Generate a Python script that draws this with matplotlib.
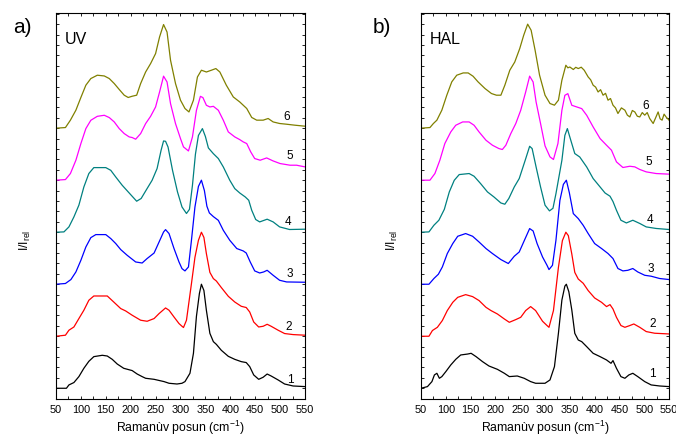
import numpy as np
import matplotlib
matplotlib.use("Agg")
import matplotlib.pyplot as plt
from matplotlib.ticker import MultipleLocator

plt.rcParams['font.family'] = ['Liberation Sans', 'DejaVu Sans']
plt.rcParams['mathtext.fontset'] = 'custom'
plt.rcParams['mathtext.rm'] = 'Liberation Sans'

# Raman spectra (shift in cm-1, normalised intensity), read as (shift, intensity)
uv_1 = [(50, 0), (71, 0), (76, 3.2), (86, 5.5), (96, 11.2), (106, 19.2), (116, 25.9), (126, 30.4),
        (143, 31.7), (153, 31), (163, 27.8), (173, 23.3), (186, 19.2), (203, 17), (213, 13.7),
        (223, 11.2), (230, 9.6), (247, 8.6), (267, 6.4), (277, 4.8), (293, 4.1), (303, 4.8),
        (309, 6.4), (319, 14.4), (326, 33.6), (332, 69.1), (338, 91.2), (342, 100), (347, 94),
        (352, 74.9), (359, 52.8), (366, 44.8), (372, 42.2), (382, 36.5), (396, 30.7), (409, 27.8),
        (422, 25.6), (432, 24.7), (439, 20.8), (447, 12.8), (457, 8.6), (466, 10.6), (474, 13.7),
        (482, 11.8), (496, 8), (509, 4.1), (526, 2.2), (550, 1.6)]
uv_2 = [(50, 0), (69, 1), (76, 5.8), (86, 8.9), (96, 17), (106, 25), (116, 34.6), (126, 38.7),
        (153, 38.7), (166, 32.9), (180, 26.6), (190, 24.3), (203, 20.2), (220, 15.4), (233, 14.4),
        (247, 17), (257, 21.8), (270, 27.2), (277, 25), (287, 18.5), (297, 12.2), (303, 9.6),
        (306, 8.4), (312, 15.4), (322, 50.6), (329, 75.8), (336, 92.2), (342, 100), (347, 95),
        (352, 79.4), (359, 61.4), (366, 55.4), (372, 53.1), (382, 46.8), (396, 38.4), (409, 32.9),
        (422, 28.8), (432, 27.6), (439, 23.3), (447, 13.7), (457, 8.9), (466, 9.6), (474, 11.5),
        (482, 9.6), (496, 5.8), (509, 2.6), (526, 1.6), (550, 1)]
uv_3 = [(50, 0), (69, 0.7), (80, 4.5), (90, 11.8), (100, 23), (110, 35.8), (120, 44.8), (130, 47.7),
        (150, 47.7), (160, 43.9), (170, 39.1), (180, 33.3), (193, 27.8), (210, 21.4), (223, 20.4),
        (233, 24.7), (247, 30), (257, 40.6), (266, 50.2), (270, 52.5), (277, 48.7), (287, 34.3),
        (297, 21.4), (303, 15), (309, 12.8), (316, 16.6), (322, 42.2), (329, 74.2), (336, 94),
        (342, 100), (348, 90), (353, 75), (358, 68.5), (366, 65), (376, 61.4), (386, 51.8),
        (399, 42.2), (413, 34.3), (426, 32), (432, 30), (440, 21.4), (449, 12.8), (459, 10.8),
        (467, 11.8), (474, 13.4), (486, 8.6), (499, 3.8), (513, 2.2), (550, 1.9)]
uv_4 = [(50, 0), (66, 0.3), (76, 5.1), (86, 14.7), (96, 26), (106, 43.5), (116, 56.4), (126, 62.1),
        (150, 62.1), (160, 59.5), (170, 53.1), (183, 45.1), (197, 37.7), (212, 29.8), (221, 32.4),
        (233, 42), (243, 49.9), (253, 61.2), (261, 78.7), (266, 87.7), (270, 87.4), (275, 81.9),
        (284, 59.5), (294, 38.7), (303, 24.3), (312, 18), (318, 22), (324, 45), (330, 75),
        (336, 93), (344, 99.6), (350, 92), (356, 81), (366, 75.5), (376, 70.8), (386, 62.7),
        (399, 49.9), (409, 41.9), (419, 37.7), (430, 33.9), (437, 30.7), (443, 21.1), (451, 12.2),
        (459, 9.9), (474, 12.5), (486, 9.9), (499, 5.1), (519, 2.6), (550, 2.9)]
uv_5 = [(50, 0), (69, 0.6), (79, 6.4), (90, 19.2), (100, 35.2), (110, 49.6), (120, 57.6), (133, 61.4),
        (147, 62.4), (157, 60.2), (167, 56), (177, 49.6), (187, 44.8), (197, 41.6), (203, 41),
        (210, 39.4), (220, 44.8), (230, 54.4), (240, 61.4), (250, 70.4), (258, 84.8), (266, 100),
        (273, 94.4), (280, 73.6), (290, 54.4), (300, 40), (306, 32), (316, 28.1), (324, 41.6),
        (332, 67.2), (340, 80.6), (345, 79.4), (352, 72), (359, 70.4), (366, 71), (376, 67.2),
        (386, 57.6), (396, 46.4), (409, 41.6), (419, 39), (426, 36.8), (433, 35.2), (441, 27.2),
        (449, 20.8), (460, 19.2), (473, 21.4), (486, 18.5), (500, 16), (520, 14.4), (533, 14.4),
        (550, 12.8)]
uv_6 = [(50, 0), (69, 0.6), (79, 7.7), (90, 17.3), (100, 29.5), (110, 41.3), (120, 47.7), (133, 50.9),
        (147, 50.2), (157, 47.7), (167, 42.9), (177, 37.2), (187, 31.7), (195, 29.5), (203, 30.7),
        (212, 31.7), (220, 42.9), (230, 54), (240, 62.1), (250, 71.7), (258, 87.7), (266, 99.6),
        (273, 92.4), (280, 65.3), (290, 42.9), (300, 26.9), (309, 18.9), (317, 15.6), (326, 26.9),
        (334, 49.2), (342, 55.7), (352, 54), (362, 55.7), (371, 57.3), (379, 54), (392, 41.3),
        (406, 30), (419, 25.2), (433, 18.9), (443, 10.3), (453, 7.7), (466, 7.7), (476, 9.3),
        (486, 6), (499, 4.5), (513, 3.8), (529, 2.9), (550, 1.9)]

hal_1 = [(50, 0), (63, 1.6), (72, 6.4), (77, 12.8), (82, 14.4), (87, 9.6), (92, 11.2), (100, 16),
         (110, 22.4), (120, 27.8), (130, 32), (144, 32.9), (151, 33.6), (161, 30.4), (174, 25.6),
         (187, 21.4), (204, 18.2), (218, 14.4), (228, 11.2), (244, 11.8), (258, 9.6), (271, 6.4),
         (281, 4.8), (300, 4.8), (310, 8), (319, 20.8), (327, 52.8), (334, 84.8), (340, 98.2),
         (343, 100), (348, 92.8), (354, 75.2), (360, 52.8), (367, 46.4), (374, 44.8), (384, 40),
         (397, 33.6), (411, 30.4), (424, 27.2), (433, 24), (437, 26.6), (444, 19.2), (453, 11.2),
         (461, 9.6), (469, 12.8), (477, 14.4), (487, 11.2), (501, 6.4), (514, 3.2), (531, 2.2),
         (550, 1.6)]
hal_2 = [(50, 0), (66, 0), (73, 5.5), (83, 8.6), (93, 15.1), (103, 24.7), (114, 32.6), (124, 37.4),
         (140, 40), (154, 38.1), (167, 34.3), (181, 27.8), (191, 24.7), (204, 21.4), (218, 16.6),
         (228, 13.4), (241, 16), (251, 18.2), (261, 24.7), (271, 28.5), (281, 24.7), (295, 14.4),
         (304, 10.3), (308, 8.6), (317, 24.7), (327, 66.2), (335, 91.9), (342, 100), (347, 96.7),
         (354, 79), (360, 61.4), (367, 55), (377, 50.9), (387, 43.9), (400, 36.8), (414, 32.6),
         (424, 28.5), (431, 30.4), (437, 26.2), (444, 18.2), (453, 10.3), (461, 8.6), (471, 10.3),
         (479, 11.8), (491, 8.6), (504, 4.5), (521, 2.9), (550, 2.2)]
hal_3 = [(50, 0), (66, 0), (76, 5.5), (85, 9.6), (93, 16.6), (103, 29.5), (114, 39.1), (124, 46.1),
         (140, 48.7), (154, 46.1), (167, 40.6), (181, 34.3), (194, 29.5), (211, 23.7), (226, 19.9),
         (238, 26.9), (248, 31), (260, 43.9), (269, 53.5), (276, 51.2), (284, 39.1), (295, 26.2),
         (304, 18.2), (308, 14.1), (315, 18.2), (322, 42.2), (330, 80.6), (337, 96), (343, 100),
         (349, 88), (357, 67.9), (367, 63.1), (377, 56.6), (387, 48.7), (400, 39.1), (414, 34.3),
         (427, 29.5), (437, 24.7), (447, 15.1), (457, 12.8), (467, 13.4), (477, 15.1), (487, 11.8),
         (501, 8.6), (514, 7.7), (531, 5.5), (550, 4.5)]
hal_4 = [(50, 0), (66, 0.3), (76, 6.7), (86, 11.5), (97, 22), (107, 38.7), (117, 49.9), (127, 55.4),
         (147, 56.4), (157, 53.8), (170, 46.8), (184, 38.7), (197, 33.9), (211, 28.1), (219, 26.9),
         (227, 32.4), (238, 43.5), (248, 51.6), (260, 69.1), (269, 82.6), (274, 80.4), (282, 62.7),
         (291, 43.5), (300, 26), (309, 20.5), (316, 23), (322, 37), (334, 69.1), (340, 93.1),
         (345, 99.6), (352, 88.3), (360, 75.6), (370, 72.3), (384, 62.7), (397, 51.6), (411, 43.5),
         (421, 37.7), (431, 34.6), (437, 29.5), (444, 21.1), (453, 11.5), (464, 8.9), (477, 11.5),
         (491, 8.4), (504, 5.1), (524, 3.6), (550, 2.6)]
hal_5 = [(50, 0), (68, 0), (78, 6.4), (88, 19.2), (98, 35.2), (110, 46.4), (120, 52.8), (134, 56),
         (147, 56), (157, 52.8), (167, 46.4), (181, 38.4), (194, 33.6), (207, 30.4), (214, 29.5),
         (221, 33.6), (231, 44.8), (241, 54.4), (251, 67.2), (261, 84.8), (269, 100), (276, 94.4),
         (282, 75.2), (291, 54.4), (300, 33), (310, 22.4), (317, 19.9), (326, 35.2), (334, 67.2),
         (340, 81.6), (346, 83.2), (354, 72), (364, 70.4), (374, 68.8), (384, 62.4), (397, 51.2),
         (411, 40), (424, 33.6), (434, 28.8), (444, 17.6), (457, 12.2), (471, 13.4), (481, 12.8),
         (491, 10.3), (504, 8), (524, 6.4), (550, 5.8)]
hal_6 = [(50, 0), (68, 0.6), (75, 4.5), (82, 7.7), (92, 17.3), (102, 31.7), (112, 44.5), (122, 50.9),
         (135, 53.1), (145, 53.1), (155, 49.9), (165, 44.5), (179, 38.1), (192, 33.3), (202, 31.7),
         (211, 31.7), (219, 41.3), (229, 55.7), (239, 63.6), (249, 76.5), (257, 89.3), (265, 100),
         (272, 94.1), (280, 74.9), (289, 50.9), (300, 31.7), (310, 23.7), (319, 22.1), (327, 26.9),
         (334, 46.1), (342, 60.5), (346, 58), (350, 58.8), (357, 56.4), (362, 58.5), (367, 57.3),
         (373, 58.6), (379, 55.7), (387, 49.2), (392, 46.5), (397, 41.3), (402, 39.5), (407, 34.8),
         (412, 37), (417, 31.7), (422, 33.5), (427, 26.9), (432, 28.5), (437, 22.1), (442, 19.5),
         (447, 14.1), (454, 19.5), (461, 17.3), (466, 12.5), (471, 10.8), (476, 17), (481, 15.6),
         (486, 11.5), (491, 10.8), (496, 15), (501, 12.5), (506, 15), (511, 9.3), (518, 4.5),
         (523, 10), (528, 15.6), (532, 9), (536, 7.7), (540, 13.5), (544, 10.8), (550, 7.7)]

uv_spectra = [uv_1, uv_2, uv_3, uv_4, uv_5, uv_6]
hal_spectra = [hal_1, hal_2, hal_3, hal_4, hal_5, hal_6]
colors = ['black', '#ff0000', '#0000ff', '#008080', '#ff00ff', '#808000']
offset = 50

# curve number positions (shift, height above own baseline)
uv_label_pos = [(521, 8.4), (518, 9), (520, 10), (516, 10), (520, 23.7), (513, 10.3)]
hal_label_pos = [(517, 14.1), (518, 12.2), (513, 15), (511, 12.2), (509, 17.6), (503, 21)]


def draw_panel(ax, spectra, label_pos, title):
    for i, spec in enumerate(spectra):
        s = np.array(spec, dtype=float)
        ax.plot(s[:, 0], s[:, 1] + i * offset, color=colors[i], lw=0.9)
        lx, ly = label_pos[i]
        ax.text(lx, ly + i * offset, str(i + 1), fontsize=8.5, ha='center', va='center')
    ax.set_xlim(50, 550)
    ax.set_ylim(-10.3, 360.6)
    ax.xaxis.set_major_locator(MultipleLocator(50))
    ax.xaxis.set_minor_locator(MultipleLocator(25))
    ax.yaxis.set_major_locator(MultipleLocator(10))
    ax.tick_params(axis='both', which='both', direction='in', top=True, right=True,
                   length=2.2, width=0.6, labelsize=7.8, pad=4)
    ax.tick_params(axis='y', labelleft=False)
    for sp in ax.spines.values():
        sp.set_linewidth(0.8)
    ax.set_xlabel('Ramanùv posun (cm$^{-1}$)', fontsize=8.8, labelpad=3)
    ax.set_ylabel(r'I/I$_{\rm rel}$', fontsize=8.8)
    ax.text(0.034, 0.921, title, transform=ax.transAxes, fontsize=11.5, va='baseline')


fig = plt.figure(figsize=(6.76, 4.37), dpi=100)
ax_a = fig.add_axes([0.0828, 0.087, 0.3684, 0.883])
ax_b = fig.add_axes([0.6228, 0.087, 0.3669, 0.883])

draw_panel(ax_a, uv_spectra, uv_label_pos, 'UV')
draw_panel(ax_b, hal_spectra, hal_label_pos, 'HAL')
ax_a.yaxis.set_label_coords(-0.092, 0.41)
ax_b.yaxis.set_label_coords(-0.085, 0.41)

fig.text(13 / 676, 1 - 33 / 437, 'a)', fontsize=15, va='baseline')
fig.text(373 / 676, 1 - 33 / 437, 'b)', fontsize=15, va='baseline')

fig.savefig('out.png', dpi=100)
